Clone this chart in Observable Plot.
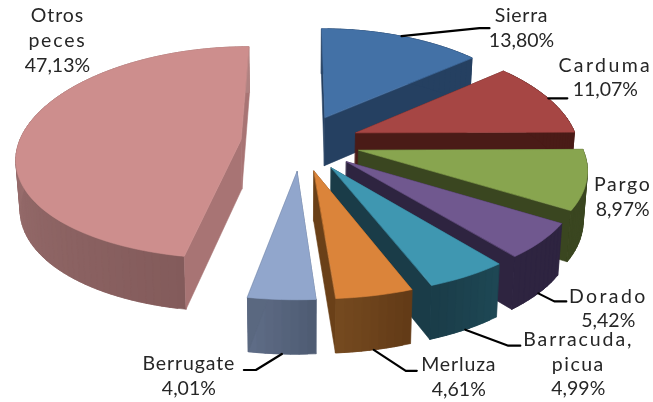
<!DOCTYPE html>
<html><head><meta charset="utf-8">
<style>html,body{margin:0;padding:0;background:#fff}svg{display:block;filter:blur(.35px)}</style>
<script src="https://cdn.jsdelivr.net/npm/d3@7"></script>
<script src="https://cdn.jsdelivr.net/npm/@observablehq/plot@0.6"></script>
</head><body><div id="chart"></div>
<script>
// Data
const categories = ["Sierra","Carduma","Pargo","Dorado","Barracuda, picua","Merluza","Berrugate","Otros peces"];
const shares = [13.80,11.07,8.97,5.42,4.99,4.61,4.01,47.13];
const labelLines = [["Sierra"],["Carduma"],["Pargo"],["Dorado"],["Barracuda,","picua"],["Merluza"],["Berrugate"],["Otros","peces"]];
// Styles
const topColors  = ["#4371a6","#a64644","#88a54f","#70588f","#3f97b1","#db843a","#91a6cc","#cd8e8d"];
const sideColors = ["#254061","#4a1b17","#3a4620","#2e2440","#1a3c48","#6a4018","#5a6880","#a87474"];
const wallStart  = ["#254061","#4a1b17","#3a4620","#2e2440","#1e4855","#623a16","#4e5b72","#835b5b"];
const wallEnd    = ["#254061","#4a1b17","#3a4620","#2e2440","#1a3c48","#754a20","#5f6d87","#b08281"];
const letterSpacings = {"Sierra":.7,"Carduma":2.4,"Pargo":1.7,"Dorado":2.4,"Barracuda,":1.9,"picua":1.5,"Merluza":.85,"Berrugate":.9,"Otros":.9,"peces":1.8};
// Label placement relative to each slice's arc midpoint (first text line, then leader bends)
const labelOffset = [[120,-20],[57,-33],[36,5],[70,3],[113,10],[85,15],[-93,10],[33,-114.5]];
const leaderBends = [[[78,-8],[88,-8]],[[19,0]],[],[[16,8],[28,8]],[[43,16],[55,16]],[[32,21],[43,21]],[[-26,16],[-38,16]],[]];
const leaderOnWall = [false,false,false,true,true,true,true,false];

// Projection of the tilted, exploded pie
const cx=300, cy=142, A=222, B=105, px=.15, py=.12, explode=.27, H=49;
const project=(X,Z,wall=0)=>{
  const sx=1/(1-px*Z), sy=1/(1-py*Z);
  const k=wall?.985:1;
  return [cx+A*X*sx*k, cy+B*Z*sy+wall*H*Math.sqrt(1/(1-.15*Z))];
};
const arcs=d3.pie().sort(null).value(d=>d).startAngle(0).endAngle(2*Math.PI)(shares);
const rows=[];
let pid=0;
const addPoly=(pts,color)=>{pid++;pts.forEach(p=>rows.push({x:p[0],y:p[1],id:pid,color}));};
const roots=[];
arcs.forEach((a,i)=>{
  const mid=(a.startAngle+a.endAngle)/2;
  const ex=explode*Math.sin(mid), ez=-explode*Math.cos(mid);
  const P=(t,r=1)=>[ex+r*Math.sin(t), ez-r*Math.cos(t)];
  const n=Math.max(8,Math.round((a.endAngle-a.startAngle)*30));
  const ts=d3.range(n+1).map(k=>a.startAngle+(a.endAngle-a.startAngle)*k/n);
  const apex=P(0,0), s0=P(a.startAngle), s1=P(a.endAngle);
  const quad=(u,v)=>[project(...u),project(...v),project(...v,1),project(...u,1)];
  const walls=[];
  walls.push({z:(apex[1]+s0[1])/2-5,pts:quad(apex,s0),c:sideColors[i]});
  walls.push({z:(apex[1]+s1[1])/2-5,pts:quad(apex,s1),c:sideColors[i]});
  // radial faces that look at the viewer go in front of the rest
  const facing=q=>d3.polygonArea(q);
  walls[0].z = facing(walls[0].pts)>0 ? 9 : -9;
  walls[1].z = facing(walls[1].pts)>0 ? 9 : -9;
  const col=d3.interpolateRgb(wallStart[i],wallEnd[i]);
  // the arc wall is one continuous band of overlapping strips, drawn in angular order
  const strips=[];
  for(let k=0;k<n;k++){
    const u=P(ts[k]),v=P(ts[Math.min(k+2,n)]);
    strips.push({pts:quad(u,v),c:col((k+.5)/n)});
  }
  const back=walls.filter(w=>w.z<0), front=walls.filter(w=>w.z>0);
  back.forEach(w=>addPoly(w.pts,w.c));
  strips.forEach(w=>addPoly(w.pts,w.c));
  front.forEach(w=>addPoly(w.pts,w.c));
  addPoly([project(...apex),...ts.map(t=>project(...P(t)))],topColors[i]);
  roots.push(project(...P(mid),leaderOnWall[i]?1:0));
});

const pctFmt=v=>v.toFixed(2).replace(".",",")+"%";
const textRows=[];
categories.forEach((c,i)=>{
  const lines=[...labelLines[i],pctFmt(shares[i])];
  lines.forEach((t,j)=>textRows.push({x:roots[i][0]+labelOffset[i][0],y:roots[i][1]+labelOffset[i][1]+j*24.6,t}));
});
const leaderRows=[];
leaderBends.forEach((b,i)=>{
  if(!b.length) return;
  [[0,0],...b].forEach(o=>leaderRows.push({x:roots[i][0]+o[0],y:roots[i][1]+o[1],i}));
});

const plot=Plot.plot({
  width:653,height:402,margin:0,
  x:{domain:[0,653],range:[0,653],axis:null},
  y:{domain:[0,402],range:[0,402],axis:null},
  color:{type:"identity"},
  style:{background:"#fff",fontFamily:"Lato, sans-serif"},
  marks:[
    Plot.line(rows,{x:"x",y:"y",z:"id",fill:"color",stroke:"color",strokeWidth:.6,curve:"linear-closed"}),
    Plot.line(leaderRows,{x:"x",y:"y",z:"i",stroke:"#000",strokeWidth:2.2,curve:"linear"}),
    Plot.text(textRows,{x:"x",y:"y",text:"t",fontSize:19.5,fill:"#262626",textAnchor:"middle"})
  ]
});
d3.select(plot).selectAll("text").each(function(){
  const ls=letterSpacings[this.textContent];
  if(ls) this.style.letterSpacing=ls+"px";
});
document.getElementById("chart").appendChild(plot);
</script></body></html>
